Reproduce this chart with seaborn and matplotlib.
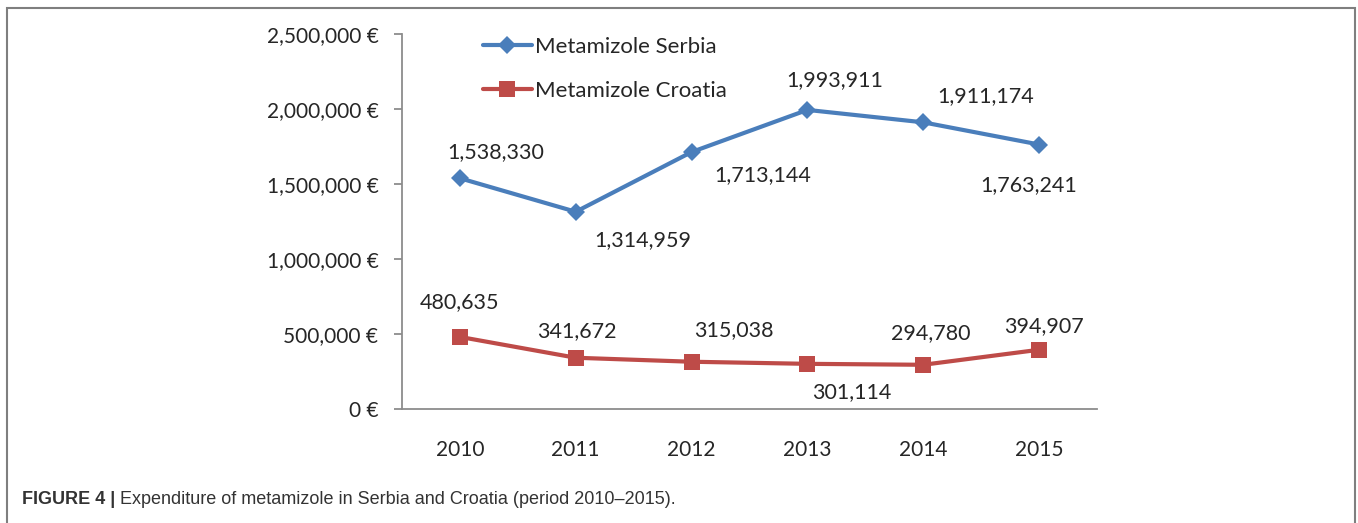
# Expenditure of metamizole in Serbia and Croatia, 2010-2015
import matplotlib
matplotlib.use("Agg")
import matplotlib.pyplot as plt
import matplotlib.ticker as mticker
from matplotlib.patches import Rectangle
import seaborn as sns
import pandas as pd

# %% data
years = [2010, 2011, 2012, 2013, 2014, 2015]
serbia = [1538330, 1314959, 1713144, 1993911, 1911174, 1763241]
croatia = [480635, 341672, 315038, 301114, 294780, 394907]
series_names = ["Metamizole Serbia", "Metamizole Croatia"]
caption_bold = "FIGURE 4 |"
caption_text = "Expenditure of metamizole in Serbia and Croatia (period 2010\u20132015)."

df = pd.DataFrame({
    "year": years * 2,
    "value": serbia + croatia,
    "series": [series_names[0]] * len(years) + [series_names[1]] * len(years),
})

# label offsets in pixels (dx, dy) relative to each point
serbia_off = [(36, 26), (67, -28), (71, -23), (27, 30), (62, 26), (-10, -41)]
croatia_off = [(0, 35), (1, 27), (42, 32), (44, -28), (7, 32), (5, 24)]

# %% plot
sns.set_style("white")
plt.rcParams["font.family"] = ["Lato", "DejaVu Sans"]
text_col = "#262626"
axis_col = "#8c8c8c"
palette = {series_names[0]: "#4A7EBB", series_names[1]: "#BE4B48"}
msizes = [9, 12]

fig = plt.figure(figsize=(13.58, 5.23), dpi=100)
ax = fig.add_axes([402 / 1358, 1 - 409 / 523, (1097 - 402) / 1358, (409 - 34) / 523])

sns.lineplot(data=df, x="year", y="value", hue="series", style="series",
             palette=palette, markers={series_names[0]: "D", series_names[1]: "s"},
             dashes=False, linewidth=3.0, markeredgewidth=0, ax=ax, sort=False)
for line, ms in zip(ax.get_lines()[:2], msizes):
    line.set_markersize(ms)

ax.set_xlim(2009.5, 2015.5)
ax.set_ylim(0, 2500000)
ax.set_xticks(years)
ax.set_yticks(range(0, 2500001, 500000))
ax.yaxis.set_major_formatter(mticker.FuncFormatter(lambda v, p: f"{v:,.0f} \u20ac"))
ax.set_xlabel("")
ax.set_ylabel("")
for s in ["top", "right"]:
    ax.spines[s].set_visible(False)
for s in ["left", "bottom"]:
    ax.spines[s].set_color(axis_col)
    ax.spines[s].set_linewidth(1.3)
ax.tick_params(axis="y", length=6, width=1.3, color=axis_col, pad=11,
               labelsize=15, labelcolor=text_col, left=True)
ax.tick_params(axis="x", length=0, pad=22, labelsize=15, labelcolor=text_col)

# data labels
px = 72 / 100  # pixels -> points
for vals, offs in [(serbia, serbia_off), (croatia, croatia_off)]:
    for x, v, (dx, dy) in zip(years, vals, offs):
        ax.annotate(f"{v:,}", (x, v), xytext=(dx * px, dy * px), textcoords="offset points",
                    ha="center", va="center", fontsize=15.5, color=text_col)

# legend
handles, labels = ax.get_legend_handles_labels()
for h, ms in zip(handles, msizes):
    h.set_markersize(ms)
ax.legend(handles, labels, loc="upper left", bbox_to_anchor=(483 / 1358, 1 - 37 / 523),
          bbox_transform=fig.transFigure, frameon=False, fontsize=16,
          handlelength=2.2, handletextpad=0.15, labelspacing=1.07,
          borderpad=0, borderaxespad=0, labelcolor=text_col)

# border box and caption
fig.patches.append(Rectangle((7 / 1358, -0.1), (1355 - 7) / 1358, 1.1 - 8 / 523,
                             transform=fig.transFigure, fill=False,
                             edgecolor="#7f7f7f", linewidth=1.5))
cap_family = ["Liberation Sans Narrow", "Liberation Sans", "DejaVu Sans"]
t1 = fig.text(22 / 1358, 1 - 500 / 523, caption_bold, fontsize=13, fontweight="bold",
              color="#333333", va="center", family=cap_family)
ax.annotate(" " + caption_text, xy=(1, 0.5), xycoords=t1, va="center", ha="left",
            fontsize=13, color="#333333", annotation_clip=False, family=cap_family)

fig.savefig("out.png", dpi=100)
